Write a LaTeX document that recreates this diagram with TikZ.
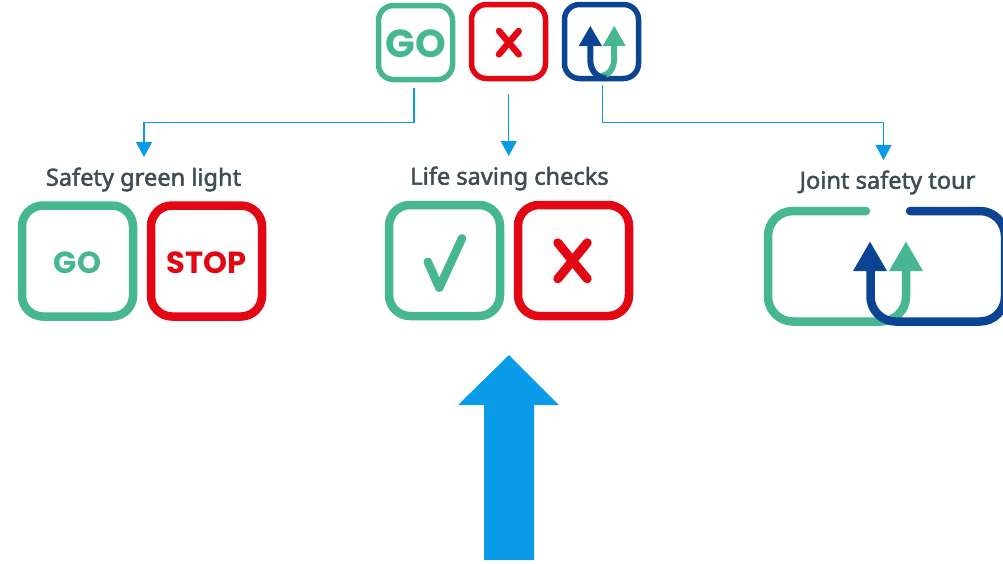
\documentclass[tikz,border=0pt]{standalone}
\usepackage{fontspec}
\usetikzlibrary{arrows.meta}
\newfontfamily\labfont{Noto Sans}[FakeBold=2]
\newfontfamily\popfont{Poppins}
\definecolor{cgreen}{HTML}{46B693}
\definecolor{cred}{HTML}{E30613}
\definecolor{cnavy}{HTML}{0B4492}
\definecolor{cblue}{HTML}{0A9BE8}
\definecolor{clabel}{HTML}{3D4D53}
\tikzset{
  smallbox/.style={draw=#1,line width=5.5pt,rounded corners=15pt,minimum width=74pt,minimum height=74pt,inner sep=0pt,text=#1},
  bigbox/.style={draw=#1,line width=8.5pt,rounded corners=21pt,minimum width=111pt,minimum height=111pt,inner sep=0pt,text=#1},
  titlelabel/.style={text=clabel,inner sep=0pt,font=\fontsize{23.6}{26}\labfont},
  bigword/.style={font=\fontsize{30.5}{32}\popfont\bfseries,text height=24pt,text depth=0pt},
  smallword/.style={font=\fontsize{39}{42}\popfont\bfseries,text height=29pt,text depth=0pt},
  connector/.style={draw=cblue,line width=1.3pt,-{Triangle[width=16pt,length=15pt,fill=cblue]}},
  mark stroke/.style={line width=#1,line cap=round},
  tour/.style={line width=8.5pt,rounded corners=25pt,line cap=round},
}
\begin{document}
\begin{tikzpicture}[x=1pt,y=-1pt]
\useasboundingbox (0,0) rectangle (1003,563);
\clip (0,0) rectangle (1003,563);
% top icons
\node[smallbox=cgreen,smallword] (topgo) at (415.5,42.5) {GO};
\node[smallbox=cred] (topx) at (508.5,41.5) {};
\node[smallbox=cnavy] (topu) at (601.5,41.5) {};
\draw[cred,mark stroke=6.5pt] (499,31) -- (518.7,54.3) (518.7,31) -- (499,54.3);
% small U arrows
\fill[cgreen] (602.7,46) -- (614.2,26) -- (625.7,46) -- cycle;
\draw[cgreen,line width=6pt] (614.2,45) -- (614.2,58) .. controls (614.2,68) and (609,75) .. (602,76);
\draw[cnavy,line width=6pt] (590.3,45) -- (590.3,60) .. controls (590.3,70) and (596,77) .. (606,78.5);
\fill[cnavy] (578.7,46) -- (590.3,26) -- (602,46) -- cycle;
% labels
\node[titlelabel] (lab1) at (143.5,179.5) {Safety green light};
\node[titlelabel] (lab2) at (509.5,178.5) {Life saving checks};
\node[titlelabel] (lab3) at (887.5,182.5) {Joint safety tour};
% bottom boxes
\node[bigbox=cgreen,bigword] (go) at (77.5,261) {GO};
\node[bigbox=cred,bigword] (stop) at (206.5,261) {STOP};
\node[bigbox=cgreen] (check) at (444.5,260.5) {};
\node[bigbox=cred] (cross) at (573.5,260.5) {};
\draw[cgreen,mark stroke=8.5pt,line join=round] (427.7,261.7) -- (439.3,287.7) -- (462,238.3);
\draw[cred,mark stroke=9pt] (557.8,242.8) -- (587.2,278.8) (587.2,242.8) -- (557.8,278.8);
% connectors
\coordinate (c1s) at (414,88);
\coordinate (c1e) at (144,157);
\coordinate (c2s) at (508.7,94);
\coordinate (c2e) at (508.7,156);
\coordinate (c3s) at (602.7,85);
\coordinate (c3e) at (883.5,160);
\draw[connector] (c1s) |- (144,122.5) -- (c1e);
\draw[connector] (c2s) -- (c2e);
\draw[connector] (c3s) |- (883.5,122.5) -- (c3e);
% joint safety tour
\draw[cgreen,tour] (866,211) -- (768,211) -- (768,321.5) -- (906,321.5) -- (906,270);
\fill[cgreen] (889,271) -- (906,241.7) -- (923,271) -- cycle;
\draw[cnavy,tour] (910,211) -- (1005,211) -- (1005,321.5) -- (870.5,321.5) -- (870.5,270);
\fill[cnavy] (853,271) -- (870,241.7) -- (887,271) -- cycle;
% big arrow
\fill[cblue] (509,355) -- (559,405) -- (534,405) -- (534,560) -- (484,560) -- (484,405) -- (458,405) -- cycle;
\end{tikzpicture}
\end{document}
